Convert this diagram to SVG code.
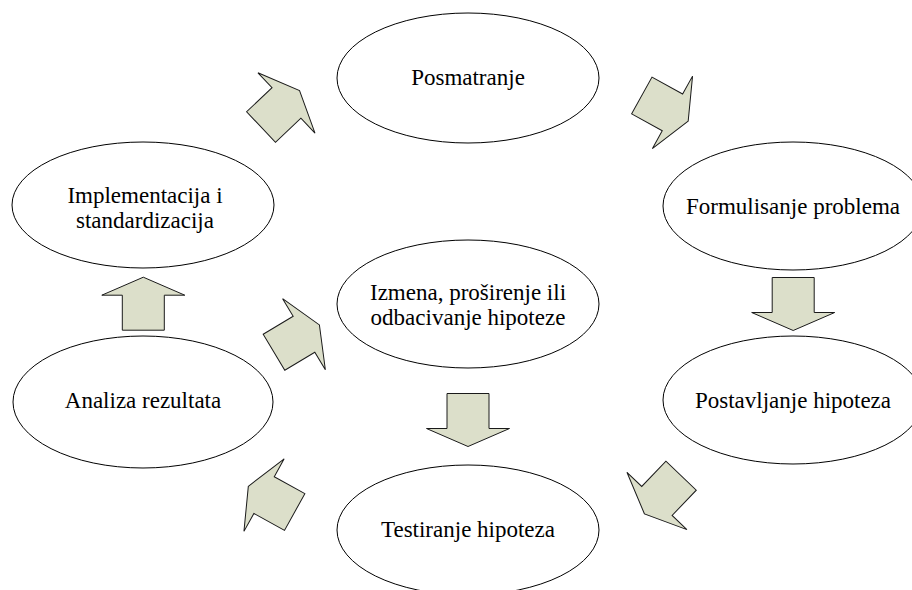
<svg xmlns="http://www.w3.org/2000/svg" xmlns:xlink="http://www.w3.org/1999/xlink" width="912" height="590" viewBox="0 0 912 590">
  <style>
    .node ellipse { fill: #ffffff; stroke: #000000; stroke-width: 1; }
    .node text { font-family: "Liberation Serif", "Times New Roman", serif; font-size: 23px; fill: #000000; text-anchor: middle; }
    .arrow { fill: #dcdfca; stroke: #1a1a1a; stroke-width: 1; stroke-linejoin: miter; }
  </style>
  <defs>
    <!-- block arrow pointing up, centred on the origin -->
    <polygon id="blk" points="0,-26.5 41.5,-8.5 21,-8.5 21,26.5 -21,26.5 -21,-8.5 -41.5,-8.5"/>
  </defs>

  <rect width="912" height="590" fill="#ffffff"/>

  <!-- cycle steps -->
  <g id="posmatranje" class="node">
    <ellipse cx="468" cy="78" rx="131" ry="65"/>
    <text x="468" y="85">Posmatranje</text>
  </g>
  <g id="formulisanje" class="node">
    <ellipse cx="793" cy="206" rx="130" ry="64"/>
    <text x="793" y="214">Formulisanje problema</text>
  </g>
  <g id="postavljanje" class="node">
    <ellipse cx="793" cy="400" rx="130" ry="64"/>
    <text x="793" y="408">Postavljanje hipoteza</text>
  </g>
  <g id="testiranje" class="node">
    <ellipse cx="468" cy="530" rx="131" ry="65"/>
    <text x="468" y="537">Testiranje hipoteza</text>
  </g>
  <g id="analiza" class="node">
    <ellipse cx="143" cy="402" rx="130" ry="66"/>
    <text x="143" y="408">Analiza rezultata</text>
  </g>
  <g id="implementacija" class="node">
    <ellipse cx="143" cy="205" rx="131" ry="63"/>
    <text x="145" y="203">Implementacija i</text>
    <text x="145" y="228">standardizacija</text>
  </g>
  <g id="izmena" class="node">
    <ellipse cx="468" cy="304" rx="131" ry="64"/>
    <text x="468" y="300">Izmena, proširenje ili</text>
    <text x="468" y="325">odbacivanje hipoteze</text>
  </g>

  <!-- block arrows between steps -->
  <g id="connectors" class="arrow">
    <use xlink:href="#blk" transform="translate(280.3,108.8) rotate(46.6)"/>
    <use xlink:href="#blk" transform="translate(665,108.3) rotate(119)"/>
    <use xlink:href="#blk" transform="translate(793.2,304) rotate(180)"/>
    <use xlink:href="#blk" transform="translate(662.8,494.8) rotate(223.7)"/>
    <use xlink:href="#blk" transform="translate(468,420) rotate(180)"/>
    <use xlink:href="#blk" transform="translate(271.5,499.2) rotate(-61)"/>
    <use xlink:href="#blk" transform="translate(296.7,338.6) rotate(59)"/>
    <use xlink:href="#blk" transform="translate(143.3,303.7)"/>
  </g>
</svg>
